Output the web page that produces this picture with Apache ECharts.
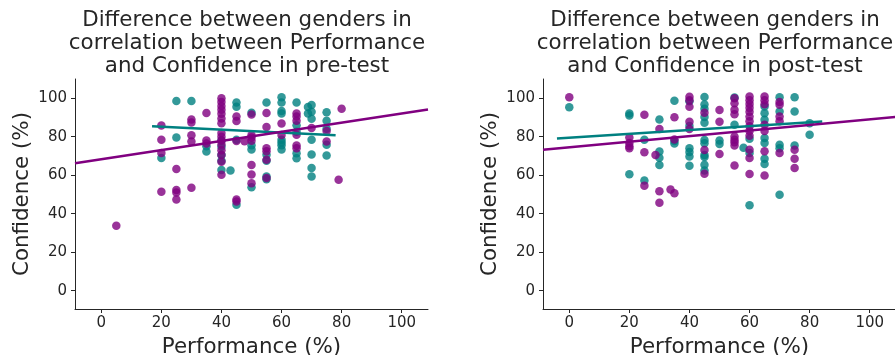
<!DOCTYPE html>
<html>
<head>
<meta charset="utf-8">
<script src="https://cdn.jsdelivr.net/npm/echarts@6/dist/echarts.min.js"></script>
<style>
html,body{margin:0;padding:0;background:#fff;}
#chart{width:895px;height:355px;}
</style>
</head>
<body>
<div id="chart"></div>
<script>
// ---- data (Performance %, Confidence %) ----
const titles = [
  'Difference between genders in\ncorrelation between Performance\nand Confidence in pre-test',
  'Difference between genders in\ncorrelation between Performance\nand Confidence in post-test'
];
const xAxisName = 'Performance (%)';
const yAxisName = 'Confidence (%)';
const xTicks = [0, 20, 40, 60, 80, 100];
const yTicks = [0, 20, 40, 60, 80, 100];

const preTeal = [
  [20,69],[25,98.6],[25,79.6],[30,98.6],[35,75],[35,72.3],
  [40,78],[40,74.8],[40,70.5],[40,67.5],[40,62.7],[43,62.4],
  [45,97.8],[45,95.6],[45,78.4],[45,44.7],
  [50,92.5],[50,75.6],[50,73.4],[50,53.7],
  [55,97.8],[55,70.6],[55,67.5],[55,59.4],[55,57.9],
  [60,100.5],[60,97.8],[60,93.4],[60,92.1],[60,78.4],[60,77],[60,75.6],[60,73.4],
  [65,97.8],[65,86],[65,82.6],[65,71.4],[65,68.8],
  [68.8,95.5],[68.8,92.1],
  [70,96.5],[70,93],[70,89.4],[70,78.4],[70,70.8],[70,63.8],[70,59.3],
  [75,92.7],[75,88.3],[75,84.1],[75,75.8],[75,70.3]
];
const prePurple = [
  [5,33.7],[20,85.8],[20,78.4],[20,71.5],[20,51.4],
  [25,63.2],[25,52.3],[25,51],[25,47.4],
  [30,89],[30,87.4],[30,80.8],[30,77.5],[30,53.5],
  [35,92.3],[35,78.1],[35,76.5],
  [40,100],[40,98],[40,96],[40,94],[40,92],[40,89.5],[40,87],[40,82],[40,80],[40,78],[40,76],[40,73],[40,70.5],[40,67],[40,60.3],
  [45,90.5],[45,88.2],[45,77.8],[47.7,77.7],[45,47.4],[45,46.3],
  [50,91.5],[50,80.8],[50,79.6],[50,77.9],[50,65.3],[50,60.4],[50,55.8],
  [55,92.3],[55,85],[55,74],[55,72.4],[55,68],[55,58.6],
  [60,86.9],[60,80.9],
  [65,92.1],[65,90.5],[65,88.3],[65,81],[65,75.5],[65,74],
  [70,84.5],[75,83],[75,77.5],[80,94.5],[79,57.7]
];
const postTeal = [
  [0,95.3],[20,92.1],[20,91],[20,60.5],[25,78.4],[25,57.3],
  [30,89],[30,72.3],[30,69.1],[30,65.3],[35,98.7],[35,77.8],[35,76.5],
  [40,98.5],[40,85.6],[40,74],[40,72.1],[40,69.7],[40,64.9],
  [45,100.6],[45,96.8],[45,94.5],[45,90.2],[45,87.3],[45,78.3],[45,76.6],[45,70.5],[45,69.5],[45,65.5],[45,62.5],
  [50,78],[50,76.2],
  [55,100.4],[55,86.2],[58,74.3],
  [60,79],[60,71.5],[60,44.4],
  [65,95.7],[65,92.2],[65,88.8],[65,79.3],[65,76.7],[65,68.6],[65,65.8],
  [70,100.5],[70,93.1],[70,75.8],[70,74],[70,49.9],
  [75,100.5],[75,93.1],[75,75.5],
  [80,87],[80,81]
];
const postPurple = [
  [0,100.5],[20,79.6],[20,76.7],[20,75],[20,74],
  [25,91.4],[25,72],[25,54.6],[28.7,70.5],
  [30,84],[30,51.7],[30,45.7],[33.7,52.6],
  [35,90.1],[35,78.6],[35,50.7],
  [40,100.8],[40,99],[40,95.6],[40,87.8],[40,84],
  [45,92.5],[45,73.1],[45,60.8],
  [50,93.9],[50,87.8],[50,71],
  [55,100],[55,97.4],[55,94],[55,91.7],[55,80.1],[55,78.4],[55,77.2],[55,75.5],[55,65.1],
  [60,100.9],[60,99],[60,97],[60,95],[60,93],[60,90.5],[60,88],[60,85.5],[60,83],[60,80.5],[60,73.2],[60,68.9],[60,60.6],
  [65,100.9],[65,99],[65,96.9],[65,86.2],[65,83],[65,72.4],[65,59.9],
  [70,98],[70,96.6],[70,90.5],[70,88],[70,71.5],
  [75,73.2],[75,68.6],[75,63.7]
];
// regression lines (end points)
const preTealFit = [[16.9,85.5],[78,80.8]];
const prePurpleFit = [[-8.75,66.2],[108.75,94.2]];
const postTealFit = [[-4.1,79.1],[84.2,87.9]];
const postPurpleFit = [[-8.75,73.3],[108.75,90.3]];

// ---- chart ----
const TEAL = '#008080', PURPLE = '#800080', INK = '#262626';
const FONT = 'DejaVu Sans';
const chart = echarts.init(document.getElementById('chart'), null, {renderer: 'canvas'});

const gridLefts = [75, 543];
const titleCenters = [247, 715];
function xAx(i) {
  return {
    type: 'value', gridIndex: i, min: -8.75, max: 108.75,
    name: xAxisName, nameLocation: 'middle', nameGap: 28,
    nameTextStyle: {fontFamily: FONT, fontSize: 21.4, color: INK},
    axisLine: {show: true, onZero: false, lineStyle: {color: INK, width: 1}},
    axisTick: {show: true, length: 4, inside: false, customValues: xTicks, lineStyle: {color: INK}},
    axisLabel: {customValues: xTicks, fontFamily: FONT, fontSize: 15, color: INK, margin: 7},
    splitLine: {show: false}
  };
}
function yAx(i) {
  return {
    type: 'value', gridIndex: i, min: -9.5, max: 110,
    name: yAxisName, nameLocation: 'middle', nameGap: 42,
    nameTextStyle: {fontFamily: FONT, fontSize: 21.4, color: INK},
    axisLine: {show: true, onZero: false, lineStyle: {color: INK, width: 1}},
    axisTick: {show: true, length: 4, inside: false, customValues: yTicks, lineStyle: {color: INK}},
    axisLabel: {customValues: yTicks, fontFamily: FONT, fontSize: 15, color: INK, margin: 8},
    splitLine: {show: false}
  };
}
function scatter(i, data, color) {
  return {type: 'scatter', xAxisIndex: i, yAxisIndex: i, data: data, symbol: 'circle', symbolSize: 8.5,
    itemStyle: {color: color, opacity: 0.8}, emphasis: {disabled: true}};
}
function fit(i, data, color) {
  return {type: 'line', xAxisIndex: i, yAxisIndex: i, data: data, showSymbol: false, symbol: 'none',
    lineStyle: {color: color, width: 2.5}, emphasis: {disabled: true}};
}

chart.setOption({
  animation: false,
  backgroundColor: '#fff',
  title: titles.map((t, i) => ({
    text: t, left: titleCenters[i], top: 9, textAlign: 'center', padding: 0,
    textStyle: {fontFamily: FONT, fontSize: 21.4, fontWeight: 'normal', color: INK, lineHeight: 23}
  })),
  grid: gridLefts.map(l => ({left: l, top: 79, width: 353, height: 230, containLabel: false, outerBoundsMode: 'none'})),
  xAxis: [xAx(0), xAx(1)],
  yAxis: [yAx(0), yAx(1)],
  series: [
    scatter(0, preTeal, TEAL), fit(0, preTealFit, TEAL),
    scatter(0, prePurple, PURPLE), fit(0, prePurpleFit, PURPLE),
    scatter(1, postTeal, TEAL), fit(1, postTealFit, TEAL),
    scatter(1, postPurple, PURPLE), fit(1, postPurpleFit, PURPLE)
  ]
});
</script>
</body>
</html>
